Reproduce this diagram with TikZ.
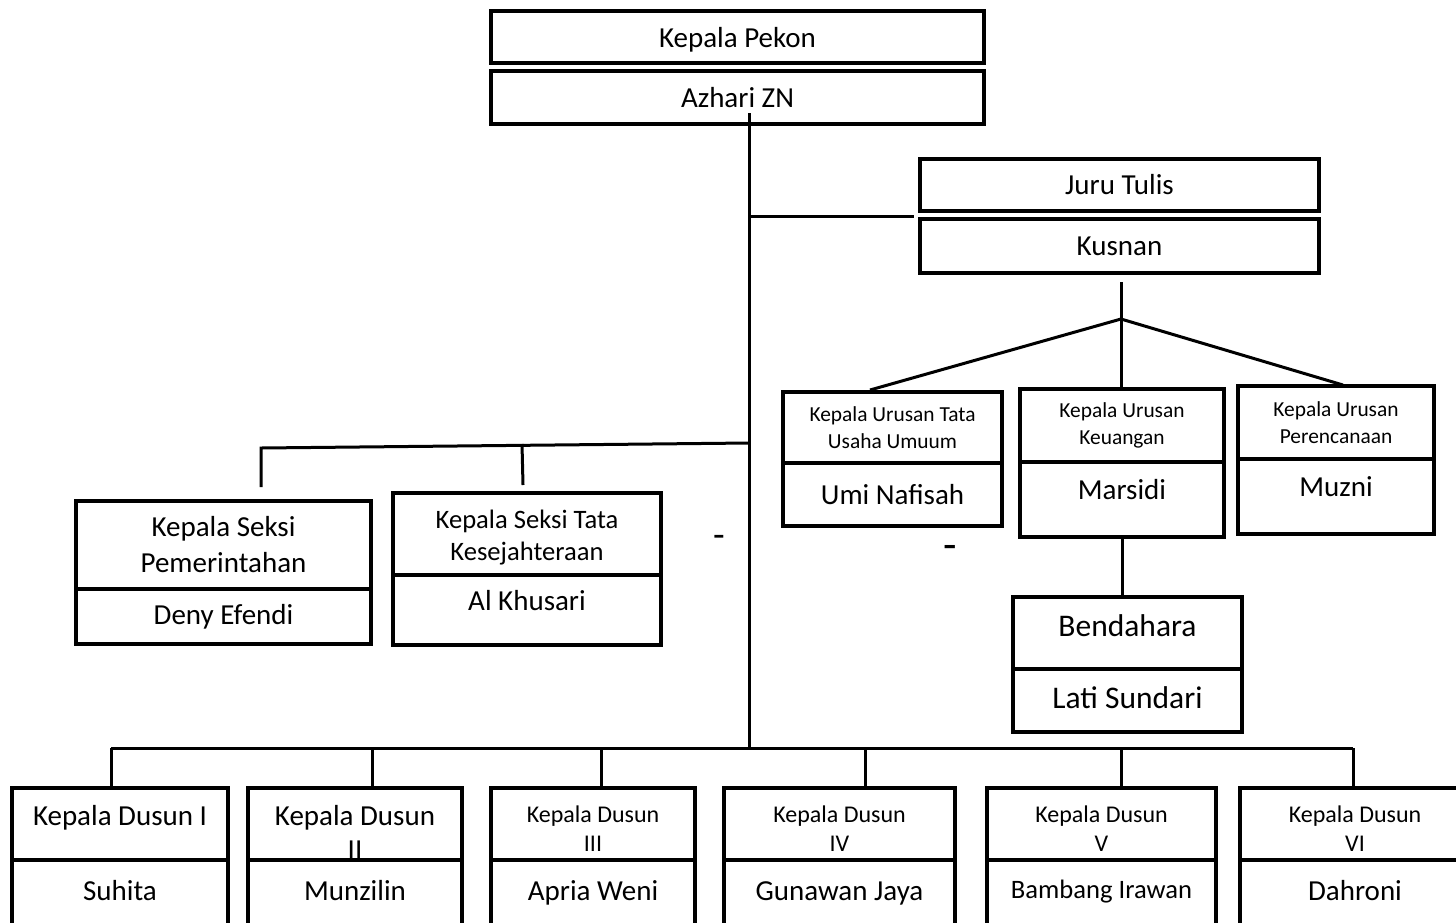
\documentclass[tikz,border=0pt]{standalone}
\usepackage{fontspec}
\setmainfont{Carlito}
\usetikzlibrary{calc}

\tikzset{
  box/.style={draw, line width=4pt, inner sep=0pt, align=center},
  big/.style={font=\fontsize{29}{36}\selectfont},
  mid/.style={font=\fontsize{24}{29}\selectfont},
  small/.style={font=\fontsize{21.4}{26.5}\selectfont},
  high/.style={text height=20pt, text depth=20pt},
  twoline/.style={text height=54pt, text depth=0pt},
  link/.style={line width=3pt},
}

\begin{document}
\begin{tikzpicture}[x=1pt, y=-1pt]
		\useasboundingbox (0,0) rectangle (1456,922);
		\clip (0,0) rectangle (1456,922);

		% kepala pekon
		\node[box, big, text height=20pt, text depth=0pt, minimum width=493pt, minimum height=52pt] (kades) at (737.5,37) {Kepala Pekon};
		\node[box, big, minimum width=493pt, minimum height=53pt] (kadesname) at (737.5,97.5) {Azhari ZN};

		% juru tulis
		\node[box, big, minimum width=399pt, minimum height=52pt] (juru) at (1119.5,185) {Juru Tulis};
		\node[box, big, minimum width=399pt, minimum height=54pt] (juruname) at (1119.5,246) {Kusnan};

		% kepala urusan
		\node[box, small, minimum width=219pt, minimum height=71pt] (kaurtu) at (892.5,427.5) {Kepala Urusan Tata\\Usaha Umuum};
		\node[box, big, minimum width=219pt, minimum height=63pt] (kaurtuname) at (892.5,494.5) {Umi Nafisah};
		\node[box, small, minimum width=204pt, minimum height=73pt] (kaurku) at (1122,425.5) {Kepala Urusan\\Keuangan};
		\node[box, big, high, minimum width=204pt, minimum height=75pt] (kaurkuname) at (1122,499.5) {Marsidi};
		\node[box, small, minimum width=196pt, minimum height=73pt] (kaurpr) at (1336,422.5) {Kepala Urusan\\Perencanaan};
		\node[box, big, high, minimum width=196pt, minimum height=75pt] (kaurprname) at (1336,496.5) {Muzni};

		% bendahara
		\node[box, font=\fontsize{31.5}{36}\selectfont, text height=22pt, text depth=16pt, minimum width=229pt, minimum height=72pt] (bend) at (1127.5,633) {Bendahara};
		\node[box, font=\fontsize{31.5}{36}\selectfont, text height=22pt, text depth=7pt, minimum width=229pt, minimum height=63pt] (bendname) at (1127.5,700.5) {Lati Sundari};

		% kepala seksi
		\node[box, big, minimum width=295pt, minimum height=88pt] (kasipem) at (223.5,545) {Kepala Seksi\\Pemerintahan};
		\node[box, big, minimum width=295pt, minimum height=55pt] (kasipemname) at (223.5,616.5) {Deny Efendi};
		\node[box, font=\fontsize{26.6}{32}\selectfont, text height=58pt, text depth=5pt, minimum width=268pt, minimum height=82pt] (kasikes) at (527,534) {Kepala Seksi Tata\\Kesejahteraan};
		\node[box, big, high, minimum width=268pt, minimum height=70pt] (kasikesname) at (527,610) {Al Khusari};

		% kepala dusun
		\node[box, big, text height=20pt, text depth=18pt, minimum width=216pt, minimum height=72pt] (dusun1) at (120,824) {Kepala Dusun I};
		\node[box, big, high, minimum width=216pt, minimum height=80pt] (dusun1name) at (120,900) {Suhita};
		\node[box, font=\fontsize{29}{34}\selectfont, text height=70pt, text depth=0pt, minimum width=214pt, minimum height=72pt] (dusun2) at (355,824) {Kepala Dusun\\II};
		\node[box, big, high, minimum width=214pt, minimum height=80pt] (dusun2name) at (355,900) {Munzilin};
		\node[box, mid, twoline, minimum width=204pt, minimum height=72pt] (dusun3) at (593,824) {Kepala Dusun\\III};
		\node[box, big, high, minimum width=204pt, minimum height=80pt] (dusun3name) at (593,900) {Apria Weni};
		\node[box, mid, twoline, minimum width=231pt, minimum height=72pt] (dusun4) at (839.5,824) {Kepala Dusun\\IV};
		\node[box, big, high, minimum width=231pt, minimum height=80pt] (dusun4name) at (839.5,900) {Gunawan Jaya};
		\node[box, mid, twoline, minimum width=229pt, minimum height=72pt] (dusun5) at (1101.5,824) {Kepala Dusun\\V};
		\node[box, font=\fontsize{26.6}{32}\selectfont, text height=20pt, text depth=24pt, minimum width=229pt, minimum height=80pt] (dusun5name) at (1101.5,900) {Bambang Irawan};
		\node[box, mid, twoline, minimum width=230pt, minimum height=72pt] (dusun6) at (1355,824) {Kepala Dusun\\VI};
		\node[box, big, high, minimum width=230pt, minimum height=80pt] (dusun6name) at (1355,900) {Dahroni};

		% stray marks
		\node[font=\fontsize{38}{40}\selectfont] (dash1) at (719,541) {-};
		\node[font=\fontsize{44}{46}\selectfont] (dash2) at (950,552) {-};

		% main line
		\coordinate (trunk) at (749,113);
		\coordinate (hub) at (749,748);
		\draw[link] (trunk) -- (hub);

		\coordinate (jurutap) at (914,216);
		\draw[link] (trunk |- jurutap) -- (jurutap);

		% seksi branch
		\coordinate (seksitap) at (749,443);
		\coordinate (sk1) at (261,448);
		\coordinate (sk2) at (522,444);
		\draw[link] (seksitap) -- (sk1) -- (261,487);
		\draw[link] (sk2) -- (523,485);

		% urusan branch
		\coordinate (fan) at (1121,319);
		\draw[link] (1121,282) -- (fan);
		\draw[link] (fan) -- (870,390);
		\draw[link] (fan) -- (fan |- kaurku.north);
		\draw[link] (fan) -- (1343,385);
		\draw[link] (kaurkuname.south) -- (kaurkuname.south |- bend.north);

		% dusun branch
		\draw[link] (111,748) -- (1353,748);
		\draw[link] (111,748) -- (111,748 |- dusun1.north);
		\draw[link] (372,748) -- (372,748 |- dusun2.north);
		\draw[link] (601,748) -- (601,748 |- dusun3.north);
		\draw[link] (865,748) -- (865,748 |- dusun4.north);
		\draw[link] (1121,748) -- (1121,748 |- dusun5.north);
		\draw[link] (1353,748) -- (1353,748 |- dusun6.north);
	\end{tikzpicture}
\end{document}
